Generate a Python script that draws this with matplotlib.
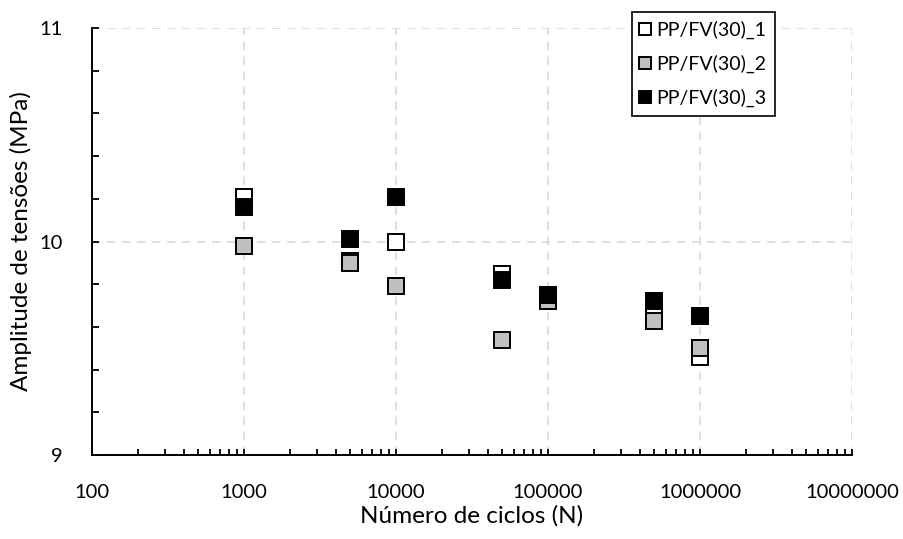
import matplotlib
matplotlib.use("Agg")
from matplotlib import pyplot as plt
from matplotlib.ticker import FixedLocator, MultipleLocator, LogLocator, NullFormatter

plt.rcParams['font.family'] = ['Lato', 'DejaVu Sans']

# Número de ciclos (N)
ciclos = [1000, 5000, 10000, 50000, 100000, 500000, 1000000]

# Amplitude de tensões (MPa) por série
serie_1 = [10.21, 9.91, 10.00, 9.85, 9.72, 9.67, 9.46]
serie_2 = [9.98, 9.90, 9.79, 9.54, 9.72, 9.63, 9.50]
serie_3 = [10.16, 10.01, 10.21, 9.82, 9.75, 9.72, 9.65]

nomes = ["PP/FV(30)_1", "PP/FV(30)_2", "PP/FV(30)_3"]
cores = ["white", "#bfbfbf", "black"]

fig = plt.figure(figsize=(9.04, 5.39), dpi=100)
ax = fig.add_axes([0.1018, 0.1558, 0.8407, 0.7922])

for ys, nome, cor in zip([serie_1, serie_2, serie_3], nomes, cores):
    ax.plot(ciclos, ys, linestyle="none", marker="s", markersize=12,
            markerfacecolor=cor, markeredgecolor="black", markeredgewidth=1.4,
            label=nome, zorder=3)

ax.set_xscale("log")
ax.set_xlim(100, 1e7)
ax.set_ylim(9, 11)

ax.xaxis.set_major_locator(FixedLocator([1e2, 1e3, 1e4, 1e5, 1e6, 1e7]))
ax.set_xticklabels(["100", "1000", "10000", "100000", "1000000", "10000000"])
ax.xaxis.set_minor_locator(LogLocator(base=10, subs=range(2, 10)))
ax.xaxis.set_minor_formatter(NullFormatter())
ax.yaxis.set_major_locator(FixedLocator([9, 10, 11]))
ax.yaxis.set_minor_locator(MultipleLocator(0.2))

ax.tick_params(axis="both", which="major", labelsize=14.5, width=1.3)
ax.tick_params(axis="both", which="minor", width=1.3)
ax.tick_params(axis="x", which="both", direction="in", length=4, pad=21)
ax.tick_params(axis="y", which="both", direction="in", length=5, pad=21)

ax.grid(True, which="major", color="#d9d9d9", linestyle=(0, (5, 4)), linewidth=1.2)
ax.set_axisbelow(True)
for s in ["top", "right"]:
    ax.spines[s].set_visible(False)
for s in ["left", "bottom"]:
    ax.spines[s].set_linewidth(1.4)

ax.set_xlabel("Número de ciclos (N)", fontsize=17.5)
ax.set_ylabel("Amplitude de tensões (MPa)", fontsize=17.5)
ax.xaxis.set_label_coords(0.5, -(516 - 455) / 427, transform=ax.transAxes)
ax.xaxis.label.set_va("center")
ax.yaxis.set_label_coords(-(92 - 21) / 760, 0.5, transform=ax.transAxes)
ax.yaxis.label.set_va("center")

leg = ax.legend(loc="upper right", bbox_to_anchor=(775 / 904, 1 - 12 / 539),
                bbox_transform=fig.transFigure, fontsize=14, frameon=True,
                fancybox=False, edgecolor="black", framealpha=1,
                markerscale=0.72, handlelength=0.5, handletextpad=0.3,
                borderpad=0.45, labelspacing=0.8, borderaxespad=0)
leg.get_frame().set_linewidth(1.2)

fig.savefig("out.png", dpi=100)
